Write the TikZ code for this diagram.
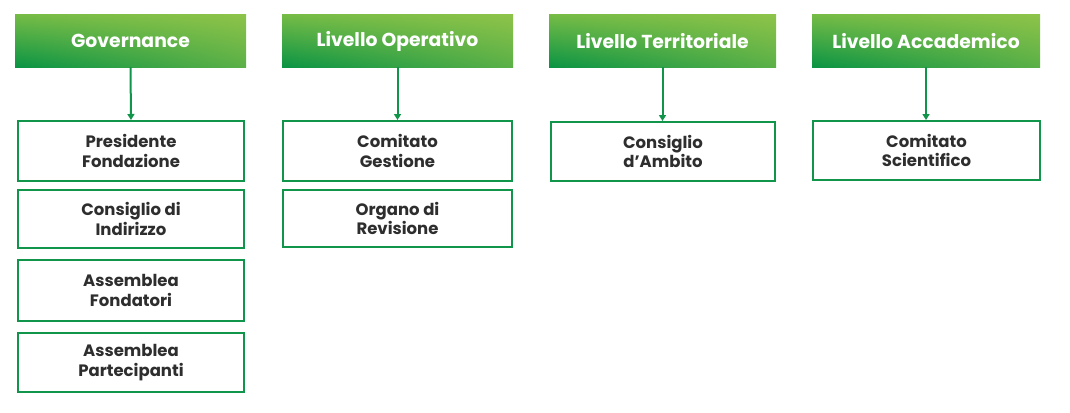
\documentclass[tikz,border=0pt]{standalone}
\usepackage{fontspec}
\setmainfont{Poppins}
\usetikzlibrary{arrows.meta,shadings}
\definecolor{gul}{HTML}{74BB46}
\definecolor{gur}{HTML}{8DC349}
\definecolor{gll}{HTML}{0A9444}
\definecolor{glr}{HTML}{5BB047}
\definecolor{gline}{HTML}{11954A}
\definecolor{txt}{HTML}{2E2E2E}
\tikzset{
  head/.style={rectangle, inner sep=0pt, minimum height=52pt,
    upper left=gul, upper right=gur, lower left=gll, lower right=glr,
    text=white, font=\fontsize{18.8}{22}\selectfont\bfseries},
  item/.style={rectangle, draw=gline, line width=2pt, fill=white, inner sep=0pt,
    text=txt, align=center, font=\fontsize{16.5}{19.5}\selectfont\bfseries},
  link/.style={draw=gline, line width=2pt, -{Triangle[width=7pt,length=6pt]}}
}
\begin{document}
\begin{tikzpicture}[x=1pt,y=1pt]
\useasboundingbox[fill=white] (0,0) rectangle (1070,-412);
% headers
\node[head, minimum width=231pt] (h1) at (130.5,-41) {Governance};
\node[head, minimum width=231pt] (h2) at (397.5,-41) {Livello Operativo};
\node[head, minimum width=227pt] (h3) at (662.5,-41) {Livello Territoriale};
\node[head, minimum width=228pt] (h4) at (926,-41) {Livello Accademico};
% column 1
\node[item, minimum width=226pt, minimum height=60pt] (b1) at (131,-151) {Presidente\\Fondazione};
\node[item, minimum width=226pt, minimum height=58pt] (b2) at (131,-219) {Consiglio di\\Indirizzo};
\node[item, minimum width=226pt, minimum height=61pt] (b3) at (131,-290.5) {Assemblea\\Fondatori};
\node[item, minimum width=226pt, minimum height=59pt] (b4) at (131,-362.5) {Assemblea\\Partecipanti};
% column 2
\node[item, minimum width=229pt, minimum height=60pt] (c1) at (397.5,-151) {Comitato\\Gestione};
\node[item, minimum width=229pt, minimum height=57pt] (c2) at (397.5,-218.5) {Organo di\\Revisione};
% column 3
\node[item, minimum width=224pt, minimum height=59pt] (d1) at (663,-151.5) {Consiglio\\d’Ambito};
% column 4
\node[item, minimum width=227pt, minimum height=59pt] (e1) at (926.5,-150.5) {Comitato\\Scientifico};
% arrows
\draw[link] (h1.south) -- (b1.north);
\draw[link] (h2.south) -- (c1.north);
\draw[link] (h3.south) -- (h3.south |- d1.north);
\draw[link] (h4.south) -- (h4.south |- e1.north);
\end{tikzpicture}
\end{document}
